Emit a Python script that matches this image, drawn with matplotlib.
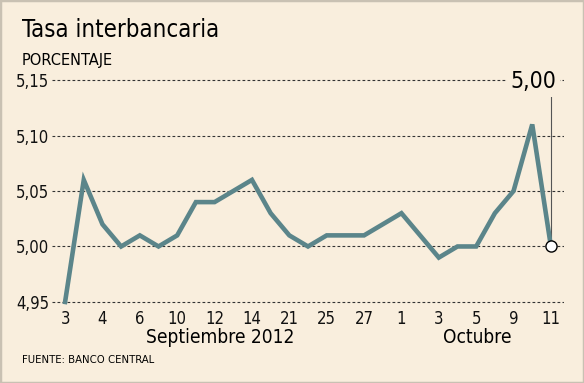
import matplotlib
matplotlib.use("Agg")
import matplotlib.pyplot as plt
from matplotlib.patches import Rectangle

# ── Data ────────────────────────────────────────────────────────────
rates = [4.95, 5.06, 5.02, 5.00, 5.01, 5.00, 5.01, 5.04, 5.04, 5.05,
         5.06, 5.03, 5.01, 5.00, 5.01, 5.01, 5.01, 5.02, 5.03, 5.01,
         4.99, 5.00, 5.00, 5.03, 5.05, 5.11, 5.00]
tick_labels = ["3", "4", "6", "10", "12", "14", "21", "25", "27",
               "1", "3", "5", "9", "11"]
y_ticks = [4.95, 5.00, 5.05, 5.10, 5.15]
y_labels = ["4,95", "5,00", "5,05", "5,10", "5,15"]
last_label = "5,00"

BG = "#f9eedd"
LINE = "#5b858a"
W, H = 584, 383

plt.rcParams["font.family"] = ["DejaVu Sans"]
plt.rcParams["font.stretch"] = "condensed"

fig = plt.figure(figsize=(W / 100, H / 100), dpi=100, facecolor=BG)
fig.patches.append(Rectangle((0, 0), 1, 1, transform=fig.transFigure,
                             fill=False, edgecolor="#c9c1b3", linewidth=2.5))

# axes box: y 4.945..5.155 maps to px 307.5..74.5
ax = fig.add_axes([52 / W, (H - 307.5) / H, 512 / W, 233 / H])
ax.set_facecolor(BG)
for s in ax.spines.values():
    s.set_visible(False)

x = list(range(len(rates)))
ax.plot(x, rates, color=LINE, linewidth=3.3, solid_joinstyle="miter",
        clip_on=False, zorder=3)

ax.set_xlim(-0.7, 26.7)
ax.set_ylim(4.945, 5.155)
ax.set_yticks(y_ticks)
ax.set_yticklabels(y_labels)
ax.set_xticks(x[::2])
ax.set_xticklabels(tick_labels)
ax.tick_params(length=0, labelsize=12, colors="#111111")
ax.tick_params(axis="y", pad=2)
ax.tick_params(axis="x", pad=1.5)
ax.grid(axis="y", color="#333333", linestyle=(0, (2.5, 2)), linewidth=0.8)
ax.set_axisbelow(True)

# Last value callout
ax.plot([x[-1], x[-1]], [rates[-1], 5.135], color="#555555", linewidth=0.8,
        zorder=2, clip_on=False)
ax.plot(x[-1], rates[-1], "o", markersize=8, markerfacecolor="white",
        markeredgecolor="black", markeredgewidth=1.0, zorder=4, clip_on=False)
ax.text(x[-1] + 0.27, 5.1428, last_label, ha="right", va="baseline",
        fontsize=16.5, bbox=dict(facecolor=BG, edgecolor="none", pad=3),
        zorder=5)

# Titles and annotations
fig.text(22 / W, 1 - 37 / H, "Tasa interbancaria", fontsize=17.2,
         va="baseline", ha="left")
fig.text(22 / W, 1 - 65 / H, "PORCENTAJE", fontsize=11.7,
         va="baseline", ha="left")
fig.text(220 / W, 1 - 343 / H, "Septiembre 2012", fontsize=13.7,
         va="baseline", ha="center")
fig.text(477 / W, 1 - 343 / H, "Octubre", fontsize=13.7,
         va="baseline", ha="center")
fig.text(22 / W, 1 - 363 / H, "FUENTE: BANCO CENTRAL", fontsize=8.1,
         va="baseline", ha="left")

fig.savefig("out.png", dpi=100, facecolor=BG)
